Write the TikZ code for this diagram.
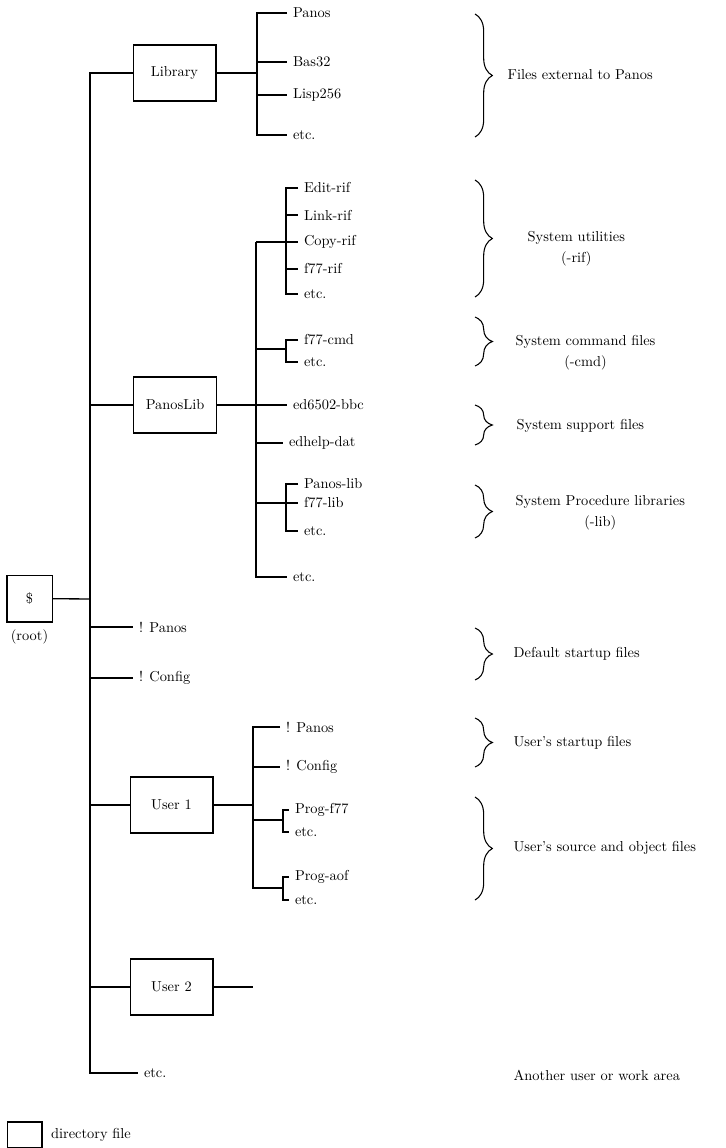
\documentclass[tikz,border=0pt]{standalone}
\usepackage{tikz}
\usetikzlibrary{positioning,decorations.pathreplacing}
\begin{document}
\begin{tikzpicture}[x=0.75pt,y=0.75pt,line width=1pt]
\tikzstyle{every node}+=[font=\fontsize{10.8}{13}\selectfont]
\tikzstyle{dirbox}=[draw,minimum width=62pt,minimum height=42pt,inner sep=0pt]
\tikzstyle{file}=[anchor=west,inner xsep=4pt,inner ysep=1pt]
\tikzstyle{note}=[anchor=west,inner sep=0pt]
\tikzstyle{sub}=[inner sep=0pt]
\tikzstyle{brace}=[decorate,decoration={brace,amplitude=13pt},line width=0.8pt]
\useasboundingbox (0,0) rectangle (725,-1148);
\node[dirbox,minimum width=34pt,minimum height=35pt] (root) at (29.5,-598.5) {\$};
\node[sub,below=5pt of root] (rootlbl) {(root)};
\coordinate (tr) at (90,-599);
\node[dirbox] (lib) at (174.5,-73) {Library};
\node[dirbox] (plib) at (175,-405) {PanosLib};
\node[file] (xpan) at (133,-627) {! Panos};
\node[file] (xcfg) at (133,-678) {! Config};
\node[dirbox] (usr1) at (171.5,-805) {User 1};
\node[dirbox] (usr2) at (171.5,-987) {User 2};
\node[file] (xetc) at (138,-1073) {etc.};
\draw (root) -- (tr);
\draw (lib) -- (tr |- lib) -- (tr |- xetc) -- (xetc);
\draw (tr |- plib) -- (plib);
\draw (tr |- xpan) -- (xpan);
\draw (tr |- xcfg) -- (xcfg);
\draw (tr |- usr1) -- (usr1);
\draw (tr |- usr2) -- (usr2);
\coordinate (libt) at (257,-73);
\node[file] (lpan) at (287,-13) {Panos};
\node[file] (lbas) at (287,-62) {Bas32};
\node[file] (llsp) at (287,-95) {Lisp256};
\node[file] (letc) at (287,-135) {etc.};
\draw (lib) -- (libt);
\draw (lpan) -| (libt |- letc) -- (letc);
\draw (libt |- lbas) -- (lbas);
\draw (libt |- llsp) -- (llsp);
\coordinate (plt) at (256,-405);
\coordinate (rifj) at (286,-242);
\node[file] (pedt) at (298,-188) {Edit-rif};
\node[file] (plnk) at (298,-215) {Link-rif};
\node[file] (pcpy) at (298,-242) {Copy-rif};
\node[file] (pf77) at (298,-269) {f77-rif};
\node[file] (petc) at (298,-294) {etc.};
\draw (pedt) -| (rifj |- petc) -- (petc);
\draw (rifj |- plnk) -- (plnk);
\draw (plt |- rifj) -- (pcpy);
\draw (rifj |- pf77) -- (pf77);
\coordinate (cmdj) at (286,-349);
\node[file] (pcmd) at (298,-340) {f77-cmd};
\node[file] (pcetc) at (298,-362) {etc.};
\draw (pcmd) -| (cmdj |- pcetc) -- (pcetc);
\draw (plt |- cmdj) -- (cmdj);
\node[file] (pbbc) at (287,-405) {ed6502-bbc};
\node[file] (pdat) at (283,-443) {edhelp-dat};
\draw (plib) -- (pbbc);
\draw (plt |- pdat) -- (pdat);
\coordinate (libj) at (286,-503);
\node[file] (pplb) at (298,-484) {Panos-lib};
\node[file] (pflb) at (298,-503) {f77-lib};
\node[file] (pletc) at (298,-531) {etc.};
\draw (pplb) -| (libj |- pletc) -- (pletc);
\draw (plt |- libj) -- (pflb);
\node[file] (pxetc) at (287,-577) {etc.};
\draw (plt |- rifj) -- (plt |- pxetc) -- (pxetc);
\coordinate (u1t) at (253,-805);
\node[file] (upan) at (280,-727) {! Panos};
\node[file] (ucfg) at (280,-767) {! Config};
\coordinate (f77j) at (283,-820);
\node[file] (uprg) at (289,-810) {Prog-f77};
\node[file] (uetc) at (289,-832) {etc.};
\coordinate (aofj) at (283,-888);
\node[file] (uaof) at (289,-877) {Prog-aof};
\node[file] (uaetc) at (289,-900) {etc.};
\draw (usr1) -- (u1t);
\draw (upan) -| (u1t |- aofj) -- (aofj);
\draw (u1t |- ucfg) -- (ucfg);
\draw (u1t |- f77j) -- (f77j);
\draw (uprg) -| (f77j |- uetc) -- (uetc);
\draw (uaof) -| (aofj |- uaetc) -- (uaetc);
\coordinate (u2e) at (253,-987);
\draw (usr2) -- (u2e);
\draw[brace] (475,-14) -- (475,-137);
\draw[brace] (475,-180) -- (475,-297);
\draw[brace] (475,-317) -- (475,-366);
\draw[brace] (475,-405) -- (475,-445);
\draw[brace] (475,-485) -- (475,-538);
\draw[brace] (475,-628) -- (475,-680);
\draw[brace] (475,-718) -- (475,-767);
\draw[brace] (475,-797) -- (475,-900);
\node[note] (nlib) at (507,-75) {Files external to Panos};
\node[note] (nrif) at (527,-238) {System utilities};
\node[sub,below=4pt of nrif] (nrifx) {(-rif)};
\node[note] (ncmd) at (515,-342) {System command files};
\node[sub,below=4pt of ncmd] (ncmdx) {(-cmd)};
\node[note] (nsup) at (516,-426) {System support files};
\node[note] (nprc) at (515,-502) {System Procedure libraries};
\node[sub,below=4pt of nprc] (nprcx) {(-lib)};
\node[note] (ndef) at (513,-654) {Default startup files};
\node[note] (nust) at (513,-743) {User's startup files};
\node[note] (nsrc) at (513,-848) {User's source and object files};
\node[note] (nwrk) at (513,-1075) {Another user or work area};
\node[draw,minimum width=26pt,minimum height=19pt,inner sep=0pt] (legbox) at (24.5,-1134.5) {};
\node[note,right=6pt of legbox] (legtxt) {directory file};
\end{tikzpicture}
\end{document}
